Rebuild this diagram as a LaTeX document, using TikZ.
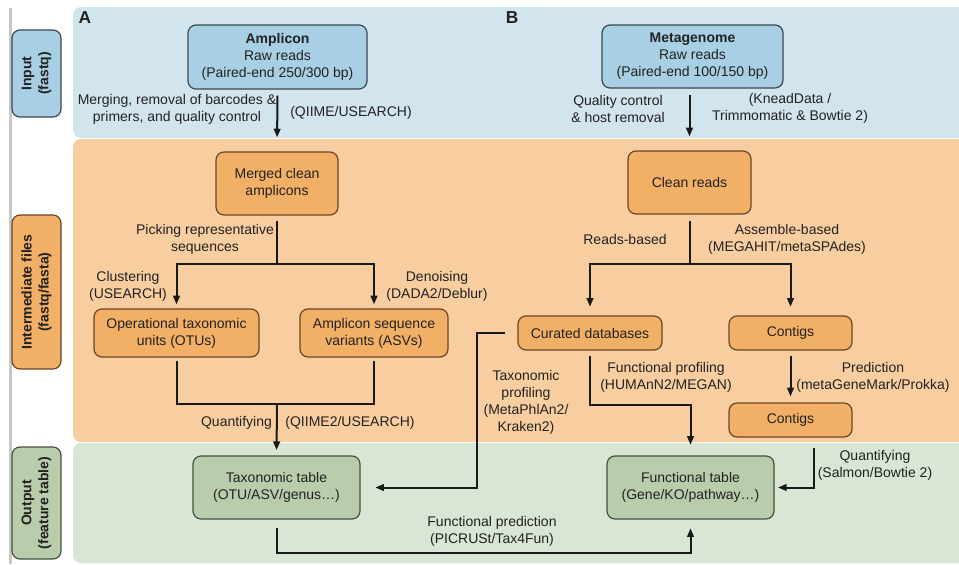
\documentclass[tikz,border=0pt]{standalone}
\usepackage{fontspec}
\setmainfont{Liberation Sans}
\usetikzlibrary{arrows.meta,calc}
\definecolor{bandblue}{HTML}{D2E4EE}
\definecolor{boxblue}{HTML}{A8CFE3}
\definecolor{bandorange}{HTML}{F8CEA0}
\definecolor{boxorange}{HTML}{F2AF66}
\definecolor{bandgreen}{HTML}{D9E5D5}
\definecolor{boxgreen}{HTML}{B9CCAB}
\definecolor{txt}{HTML}{222222}
\definecolor{edgeblue}{HTML}{3A4850}
\definecolor{edgeorange}{HTML}{6A4526}
\definecolor{edgegreen}{HTML}{46523F}
\definecolor{sidegrey}{HTML}{C8C8C8}
\tikzset{
  wh/.style 2 args={minimum width=#1*0.75pt, minimum height=#2*0.75pt},
  basebox/.style={rounded corners=6pt, line width=0.9pt, align=center, inner sep=0pt, text=txt,
    font=\fontsize{10.5}{12.75}\selectfont},
  bluebox/.style={basebox, draw=edgeblue, fill=boxblue},
  orangebox/.style={basebox, draw=edgeorange, fill=boxorange},
  greenbox/.style={basebox, draw=edgegreen, fill=boxgreen},
  sidelbl/.style={rotate=90, font=\fontsize{10.5}{12.75}\selectfont\bfseries},
  lbl/.style={align=center, inner sep=0pt, text=txt, font=\fontsize{10.5}{12.75}\selectfont},
  ln/.style={line width=1.5pt, draw=black!90},
  arr/.style={ln, -{Triangle[length=6.5pt,width=5pt]}},
  darr/.style={ln, {Triangle[length=6.5pt,width=5pt]}-{Triangle[length=6.5pt,width=5pt]}},
  panel/.style={font=\fontsize{13}{15}\selectfont\bfseries, text=txt, inner sep=0pt},
}
\begin{document}
\begin{tikzpicture}[x=0.75pt,y=-0.75pt]
\useasboundingbox (0,0) rectangle (959,564);
\fill[white] (0,0) rectangle (959,564);
% bands
\fill[bandblue, rounded corners=6pt] (73,7) rectangle (975,138);
\fill[bandorange, rounded corners=6pt] (73,139) rectangle (975,442);
\fill[bandgreen, rounded corners=6pt] (73,443) rectangle (975,563);
% sidebar
\fill[sidegrey] (8.5,8) rectangle (11.5,564);
\node[bluebox, sidelbl, wh={87}{49}] (sin) at (36.5,73.5) {Input\\(fastq)};
\node[orangebox, sidelbl, wh={154}{49}] (smid) at (36.5,292) {Intermediate files\\(fastq/fasta)};
\node[greenbox, sidelbl, wh={112}{49}] (sout) at (36.5,503) {Output\\(feature table)};
% panel letters
\node[panel] (pA) at (85,18) {A};
\node[panel] (pB) at (512,18) {B};
% boxes
\node[bluebox, wh={179}{64}] (amp) at (277.5,57) {\textbf{Amplicon}\\Raw reads\\(Paired-end 250/300 bp)};
\node[bluebox, wh={181}{63}] (meta) at (692.5,56.5) {\textbf{Metagenome}\\Raw reads\\(Paired-end 100/150 bp)};
\node[orangebox, wh={122}{63}] (merged) at (277,183.5) {Merged clean\\amplicons};
\node[orangebox, wh={123}{63}] (clean) at (689.5,182.5) {Clean reads};
\node[orangebox, wh={165}{48}] (otu) at (176.5,333) {Operational taxonomic\\units (OTUs)};
\node[orangebox, wh={148}{48}] (asv) at (374,333) {Amplicon sequence\\variants (ASVs)};
\node[orangebox, wh={144}{34}] (cur) at (590,333) {Curated databases};
\node[orangebox, wh={123}{34}] (con1) at (790.5,333) {Contigs};
\node[orangebox, wh={123}{34}] (con2) at (790.5,420) {Contigs};
\node[greenbox, wh={167}{63}] (tax) at (276.5,487.5) {Taxonomic table\\(OTU/ASV/genus…)};
\node[greenbox, wh={167}{63}] (fun) at (690.5,487.5) {Functional table\\(Gene/KO/pathway…)};
% coordinates
\coordinate (split1) at (277,264);
\coordinate (join1) at (277,404);
\coordinate (split2) at (689.5,264);
\coordinate (cf) at (690.5,405);
\coordinate (fp) at (690.5,553);
% connectors
\draw[arr, shorten <=4.5pt, shorten >=10.5pt] (amp.south) -- (merged.north);
\draw[arr, shorten <=4.5pt, shorten >=10.5pt] (clean.north |- meta.south) -- (clean.north);
\draw[ln, shorten <=4pt] (merged.south) -- (split1);
\draw[darr, shorten <=3pt, shorten >=3pt] (otu.north) |- (split1) -| (asv.north);
\draw[ln, shorten <=2.5pt, shorten >=2.5pt] (otu.south) |- (join1) -| (asv.south);
\draw[arr, shorten >=4pt] (join1) -- (tax.north);
\draw[ln, shorten <=5pt] (clean.south) -- (split2);
\draw[darr, shorten <=6.5pt, shorten >=6.5pt] (cur.north) |- (split2) -| (con1.north);
\draw[arr, shorten <=4pt, shorten >=4.5pt] (con1.south) -- (con2.north);
\draw[arr, shorten <=4pt, shorten >=8pt] (cur.south) |- (cf) -- (fun.north);
\draw[arr, shorten <=9.5pt, shorten >=11pt] (cur.west) -- ++(-40,0) |- (tax.east);
\draw[arr, shorten <=7.5pt, shorten >=2.5pt] ([xshift=17.6pt]con2.south) |- (fun.east);
\draw[arr, shorten <=6pt, shorten >=6.5pt] (tax.south) |- (fp) -- (fun.south);
% labels
\node[lbl] (l1) at (177,109) {Merging, removal of barcodes \&\\primers, and quality control};
\node[lbl] (l2) at (351,113) {(QIIME/USEARCH)};
\node[lbl] (l3) at (618,108.5) {Quality control\\\& host removal};
\node[lbl] (l4) at (790,108.5) {(KneadData /\\Trimmomatic \& Bowtie 2)};
\node[lbl] (l5) at (205,239) {Picking representative\\sequences};
\node[lbl] (l6) at (128,286) {Clustering\\(USEARCH)};
\node[lbl] (l7) at (437,286) {Denoising\\(DADA2/Deblur)};
\node[lbl] (l8) at (236.5,423) {Quantifying};
\node[lbl] (l9) at (350,423) {(QIIME2/USEARCH)};
\node[lbl] (l10) at (625,239) {Reads-based};
\node[lbl] (l11) at (787,239.5) {Assemble-based\\(MEGAHIT/metaSPAdes)};
\node[lbl] (l12) at (526,402.5) {Taxonomic\\profiling\\(MetaPhlAn2/\\Kraken2)};
\node[lbl] (l13) at (666,377) {Functional profiling\\(HUMAnN2/MEGAN)};
\node[lbl] (l14) at (873,377) {Prediction\\(metaGeneMark/Prokka)};
\node[lbl] (l15) at (875,465.5) {Quantifying\\(Salmon/Bowtie 2)};
\node[lbl] (l16) at (492,531.5) {Functional prediction\\(PICRUSt/Tax4Fun)};
\end{tikzpicture}
\end{document}
